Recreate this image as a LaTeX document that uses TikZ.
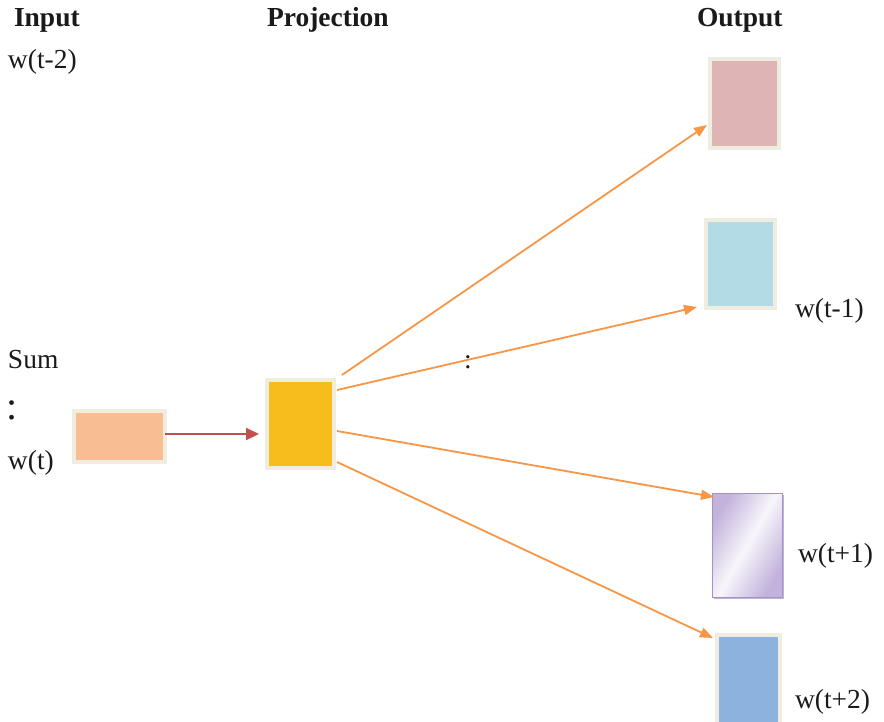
\documentclass[tikz,border=0pt]{standalone}
\usepackage{fontspec}
\setmainfont{Liberation Serif}
\usetikzlibrary{arrows.meta,calc}
\definecolor{frameC}{HTML}{EEEDE0}
\definecolor{peachC}{HTML}{F8BE91}
\definecolor{goldC}{HTML}{F6BD1C}
\definecolor{pinkC}{HTML}{DFB4B4}
\definecolor{skyC}{HTML}{B2DBE6}
\definecolor{lavC}{HTML}{C2B2DC}
\definecolor{lavB}{HTML}{A493C6}
\definecolor{blueC}{HTML}{8DB2DD}
\definecolor{orangeC}{HTML}{F79646}
\definecolor{redC}{HTML}{C0504D}
\definecolor{txtC}{HTML}{1A1A1A}
\tikzset{
  unitbox/.style={draw=frameC, line width=4pt, inner sep=0pt, outer sep=0pt},
  lbl/.style={anchor=base west, inner sep=0pt, outer sep=0pt, text=txtC,
    font=\fontsize{27.5}{33}\selectfont},
  hdr/.style={lbl, font=\fontsize{27.5}{33}\selectfont\bfseries},
  outarrow/.style={draw=orangeC, line width=1.8pt, -{Triangle[length=13pt,width=10pt]}},
  inarrow/.style={draw=redC, line width=2.2pt, -{Triangle[length=13pt,width=12pt]}}
}
\begin{document}
\begin{tikzpicture}[x=1pt,y=-1pt]
\useasboundingbox[fill=white] (0,0) rectangle (884,722);
% headers
\node[hdr] (hin) at (14,27) {Input};
\node[hdr] (hproj) at (267,27) {Projection};
\node[hdr] (hout) at (697,27) {Output};
% left labels
\node[lbl] (lw2) at (8,69) {w(t-2)};
\node[lbl] (lsum) at (8,368) {Sum};
\node[lbl, font=\fontsize{40}{44}\selectfont] (lcol) at (6,419) {:};
\node[lbl] (lwt) at (8,469) {w(t)};
\node[lbl] (mcol) at (464,368) {:};
% boxes
\node[unitbox, fill=peachC, minimum width=91pt, minimum height=51pt] (inbox) at (119.5,436.5) {};
\node[unitbox, fill=goldC, minimum width=67pt, minimum height=88pt] (proj) at (300.5,424) {};
\node[unitbox, fill=pinkC, minimum width=69pt, minimum height=89pt] (o1) at (744.5,103.5) {};
\node[unitbox, fill=skyC, minimum width=69pt, minimum height=88pt] (o2) at (740.5,264) {};
\node[draw=lavB, line width=1pt, inner sep=0pt, outer sep=0pt,
      left color=lavC, right color=lavC, middle color=lavC!12, shading angle=60,
      minimum width=70pt, minimum height=104pt] (o3) at (747,545) {};
\draw[lavB!70, line width=1.5pt] ($(o3.north east)+(1.5,2)$) -- ($(o3.south east)+(1.5,1.5)$) -- ($(o3.south west)+(2,1.5)$);
\node[unitbox, fill=blueC, minimum width=63pt, minimum height=94pt] (o4) at (748.5,682) {};
% output labels
\node[lbl] (l1) at (795,317) {w(t-1)};
\node[lbl] (l3) at (798,562) {w(t+1)};
\node[lbl] (l4) at (795,708) {w(t+2)};
% connector points
\coordinate (s0) at ($(inbox.east)+(0,-2.5)$);
\coordinate (e0) at ($(s0 -| proj.west)+(-8,0)$);
\coordinate (s1) at ($(proj.north east)+(8,-5)$);
\coordinate (s2) at ($(proj.north east)+(3,10)$);
\coordinate (s3) at ($(proj.east)+(3,7)$);
\coordinate (s4) at ($(proj.south east)+(3,-6)$);
\coordinate (e1) at ($(o1.west)+(-3,21.5)$);
\coordinate (e2) at ($(o2.west)+(-9,43)$);
\coordinate (e3) at ($(o3.north west)+(2,4)$);
\coordinate (e4) at ($(o4.north west)+(-4,3)$);
% connectors
\draw[inarrow] (s0) -- (e0);
\draw[outarrow] (s1) -- (e1);
\draw[outarrow] (s2) -- (e2);
\draw[outarrow] (s3) -- (e3);
\draw[outarrow] (s4) -- (e4);
\end{tikzpicture}
\end{document}
